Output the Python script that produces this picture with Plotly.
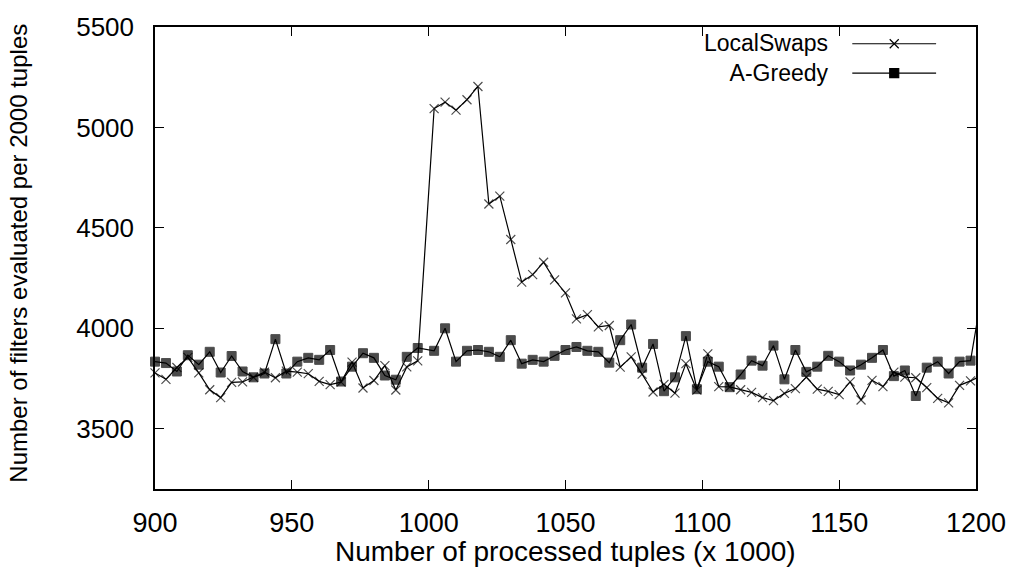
import plotly.graph_objects as go

# ---------------- data ----------------
x_vals = [900, 904, 908, 912, 916, 920, 924, 928, 932, 936, 940, 944, 948, 952, 956,
          960, 964, 968, 972, 976, 980, 984, 988, 992, 996,
          1002, 1006, 1010, 1014, 1018, 1022, 1026, 1030, 1034, 1038, 1042, 1046, 1050,
          1054, 1058, 1062, 1066, 1070, 1074, 1078, 1082, 1086, 1090, 1094, 1098, 1102,
          1106, 1110, 1114, 1118, 1122, 1126, 1130, 1134, 1138, 1142, 1146, 1150, 1154,
          1158, 1162, 1166, 1170, 1174, 1178, 1182, 1186, 1190, 1194, 1198, 1202]

local_swaps = [3778, 3746, 3805, 3855, 3778, 3694, 3655, 3731, 3733, 3756, 3782, 3754, 3787,
               3782, 3774, 3736, 3720, 3732, 3832, 3703, 3740, 3814, 3693, 3808, 3838,
               5094, 5126, 5086, 5138, 5204, 4619, 4658, 4442, 4230, 4267, 4329, 4241, 4176,
               4047, 4068, 4007, 4014, 3807, 3858, 3772, 3683, 3721, 3677, 3824, 3692, 3873,
               3710, 3708, 3694, 3681, 3655, 3640, 3676, 3700, 3757, 3697, 3686, 3670, 3733,
               3643, 3741, 3710, 3782, 3757, 3754, 3705, 3651, 3629, 3716, 3738, 3765]

a_greedy = [3834, 3827, 3785, 3866, 3819, 3883, 3780, 3862, 3785, 3756, 3775, 3946, 3775,
            3834, 3853, 3843, 3892, 3735, 3809, 3876, 3853, 3765, 3744, 3858, 3902,
            3888, 4000, 3834, 3888, 3892, 3883, 3858, 3941, 3824, 3843, 3834, 3863, 3892,
            3907, 3888, 3883, 3829, 3941, 4019, 3804, 3922, 3687, 3756, 3961, 3697, 3834,
            3809, 3707, 3770, 3839, 3814, 3914, 3746, 3892, 3783, 3809, 3863, 3834, 3790,
            3819, 3853, 3892, 3762, 3790, 3663, 3804, 3834, 3775, 3834, 3839, 4160]

x_ticks = [900, 950, 1000, 1050, 1100, 1150, 1200]
y_ticks = [3500, 4000, 4500, 5000, 5500]
x_range = [900, 1200]
y_range = [3200, 5500]

series_names = ["LocalSwaps", "A-Greedy"]
x_title = "Number of processed tuples (x 1000)"
y_title = "Number of filters evaluated per 2000 tuples"

# ---------------- figure ----------------
W, H = 1018, 570
L, R, T, B = 155, 40, 19, 81
FONT = "Liberation Sans, Arial, sans-serif"
KEY_FONT = 23

in_range = [x_range[0] <= v <= x_range[1] for v in x_vals]
ls_sizes = [9 if ok else 0 for ok in in_range]
ag_sizes = [9 if ok else 0 for ok in in_range]

fig = go.Figure()
fig.add_trace(go.Scatter(
    x=x_vals, y=local_swaps, mode="lines+markers", name=series_names[0],
    line=dict(color="black", width=1.2),
    marker=dict(symbol="x-thin-open", size=ls_sizes, color="black",
                line=dict(color="black", width=1.2)),
    cliponaxis=False, showlegend=False))
fig.add_trace(go.Scatter(
    x=x_vals, y=a_greedy, mode="lines+markers", name=series_names[1],
    line=dict(color="black", width=1.2),
    marker=dict(symbol="square", size=ag_sizes, color="black",
                line=dict(color="black", width=1)),
    cliponaxis=False, showlegend=False))

# custom gnuplot-style key (text left, sample right) on an overlay axis pair [0,1]
plot_h = H - T - B
key_center_px = 51                      # vertical centre of the key block (px from top)
row_step_px = 1.3 * KEY_FONT            # plotly's line spacing for <br>
key_rows_px = [key_center_px - row_step_px / 2, key_center_px + row_step_px / 2]
key_y = [(H - B - p) / plot_h for p in key_rows_px]
key_line_x = [0.8493, 0.9514]
key_mark_x = 0.9004
key_text_x = 0.8238
for name, ky, sym in zip(series_names, key_y, ["x-thin-open", "square"]):
    fig.add_trace(go.Scatter(
        x=key_line_x, y=[ky, ky], mode="lines", xaxis="x2", yaxis="y2",
        line=dict(color="black", width=1.2), showlegend=False, hoverinfo="skip"))
    fig.add_trace(go.Scatter(
        x=[key_mark_x], y=[ky], mode="markers", xaxis="x2", yaxis="y2",
        marker=dict(symbol=sym, size=9, color="black", line=dict(color="black", width=1.2)),
        showlegend=False, hoverinfo="skip"))

annotations = [
    dict(text="<br>".join(series_names), x=key_text_x, y=(H - B - key_center_px) / plot_h,
         xref="paper", yref="paper", xanchor="right", yanchor="middle", align="right",
         showarrow=False, font=dict(family=FONT, size=KEY_FONT, color="black")),
    dict(text=x_title, x=0.5, y=-0.136, xref="paper", yref="paper",
         xanchor="center", yanchor="middle", showarrow=False,
         font=dict(family=FONT, size=28, color="black")),
    dict(text=y_title, x=-0.1665, y=0.51, xref="paper", yref="paper",
         xanchor="center", yanchor="middle", showarrow=False, textangle=-90,
         font=dict(family=FONT, size=24, color="black")),
]

axis_common = dict(showline=True, linecolor="black", linewidth=1.5, mirror="ticks",
                   ticks="inside", ticklen=9, tickwidth=1, tickcolor="black",
                   showgrid=False, zeroline=False)

fig.update_layout(
    width=W, height=H,
    margin=dict(l=L, r=R, t=T, b=B, pad=0),
    paper_bgcolor="white", plot_bgcolor="white",
    xaxis=dict(range=x_range, tickmode="array", tickvals=x_ticks,
               ticktext=[str(v) for v in x_ticks], ticklabelstandoff=9,
               tickfont=dict(family=FONT, size=27, color="black"), **axis_common),
    yaxis=dict(range=y_range, tickmode="array", tickvals=y_ticks,
               ticktext=[str(v) for v in y_ticks], ticklabelstandoff=14,
               tickfont=dict(family=FONT, size=26, color="black"), **axis_common),
    xaxis2=dict(range=[0, 1], overlaying="x", visible=False, fixedrange=True),
    yaxis2=dict(range=[0, 1], overlaying="y", visible=False, fixedrange=True),
    annotations=annotations,
    showlegend=False,
)

fig.write_html("out.html")
